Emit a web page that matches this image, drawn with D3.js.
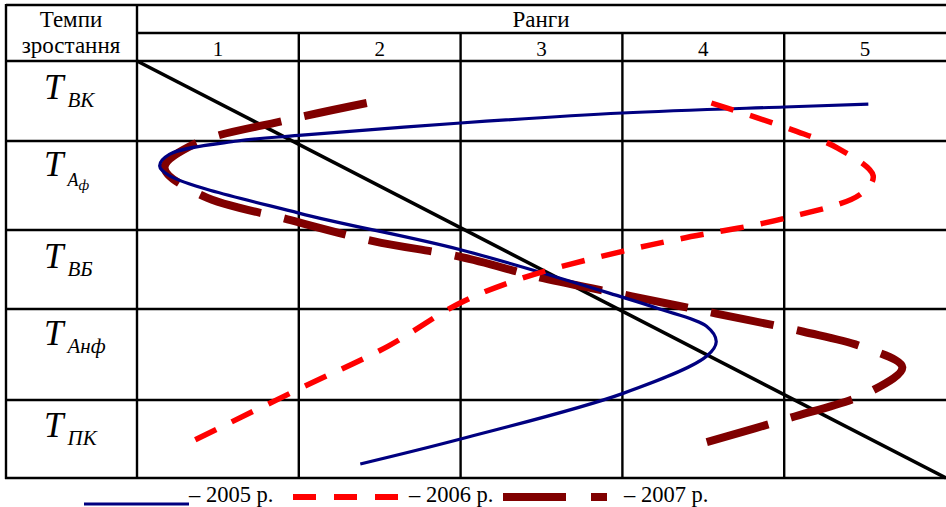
<!DOCTYPE html>
<html><head><meta charset="utf-8">
<script src="https://cdn.jsdelivr.net/npm/d3@7"></script>
<style>body{margin:0;background:#fff}svg{display:block}</style>
</head><body>
<svg id="c" width="946" height="507" font-family="'Liberation Serif', 'Times New Roman', serif"></svg>
<script>
// ranks (columns) and indicators (rows)
const ranks = ["1","2","3","4","5"];
const indicatorMain = ["T","T","T","T","T"];
const indicatorSub = ["ВК","А","ВБ","Анф","ПК"];
const indicatorSubSub = ["","ф","","",""];
const headerLeft = ["Темпи","зростання"];
const headerTop = "Ранги";
const years = ["– 2005 р.","– 2006 р.","– 2007 р."];

// series: traced points [rank position, row position]
const s2005 = [[5.02,0.54],[4.5,0.575],[3.5,0.65],[2.5,0.775],[1.5,0.93],[1.12,1.0],[0.70,1.15],[0.64,1.28],[0.70,1.39],[1.5,1.81],[2.5,2.25],[3.5,2.85],[3.73,3.0],[4.02,3.19],[4.08,3.36],[4.02,3.52],[3.5,3.93],[2.5,4.50],[1.88,4.82]];
const s2006 = [[4.05,0.525],[4.55,0.86],[4.83,1.08],[5.05,1.39],[4.97,1.60],[4.50,1.87],[3.86,2.11],[3.50,2.27],[2.91,2.59],[2.50,2.92],[2.05,3.41],[1.50,3.88],[0.86,4.51]];
const s2007 = [[1.92,0.525],[1.40,0.75],[0.86,1.03],[0.67,1.30],[0.91,1.62],[1.43,1.88],[1.96,2.14],[2.50,2.34],[3.01,2.61],[3.56,2.84],[4.08,3.05],[4.62,3.25],[4.99,3.42],[5.23,3.64],[5.03,3.91],[4.52,4.24],[4.02,4.54]];
const diagonal = [[0.5,0],[5.5,5]];

const svg = d3.select("#c");
svg.append("rect").attr("width",946).attr("height",507).attr("fill","#fff");
const x = d3.scaleLinear().domain([0.5,5.5]).range([137,946]);
const y = d3.scaleLinear().domain([0,1,2,3,4,5]).range([61,141,230,309,400,478]);

const g = svg.append("g");
const ln = (x1,y1,x2,y2)=>g.append("line").attr("x1",x1).attr("y1",y1).attr("x2",x2).attr("y2",y2).attr("stroke","#000").attr("stroke-width",2.4);

// table frame
ln(6,5,946,5);
ln(6,4,6,479);
ln(137,4,137,479);
ln(137,33,946,33);
d3.range(1.5,5.5,1).forEach(r=>ln(x(r),33,x(r),479));
d3.range(0,6).forEach(i=>ln(5,y(i),946,y(i)));

// header texts
const fs = 23;
g.append("text").attr("x",71).attr("y",27).attr("text-anchor","middle").attr("font-size",fs).text(headerLeft[0]);
g.append("text").attr("x",71).attr("y",53).attr("text-anchor","middle").attr("font-size",fs).text(headerLeft[1]);
g.append("text").attr("x",541).attr("y",27).attr("text-anchor","middle").attr("font-size",fs).text(headerTop);
g.selectAll(".rk").data(ranks).join("text").attr("x",(d,i)=>x(i+1)).attr("y",56).attr("text-anchor","middle").attr("font-size",21).text(d=>d);

// row labels
indicatorMain.forEach((m,i)=>{
  const shift = (indicatorSub[i].includes("ф")||indicatorSubSub[i]) ? 8 : 0;
  const by = y(i+0.5) - 2 - shift;
  const t = g.append("text").attr("x",44).attr("y",by).attr("font-style","italic");
  t.append("tspan").attr("font-size",35).text(m);
  if(indicatorSubSub[i]){
    t.append("tspan").attr("font-size",18).attr("dx",4).attr("dy",10).text(indicatorSub[i]);
    t.append("tspan").attr("font-size",15).attr("dy",4).text(indicatorSubSub[i]);
  } else {
    t.append("tspan").attr("font-size",21).attr("dx",4).attr("dy",8).text(indicatorSub[i]);
  }
});

// curves
const line = d3.line().x(d=>x(d[0])).y(d=>y(d[1])).curve(d3.curveCatmullRom.alpha(0.5));
g.append("path").datum(diagonal).attr("d",d3.line().x(d=>x(d[0])).y(d=>y(d[1]))).attr("fill","none").attr("stroke","#000").attr("stroke-width",3.5);

function fitDash(path, dash, gap){
  const L = path.node().getTotalLength();
  const n = Math.max(1, Math.round((L + gap) / (dash + gap)));
  const k = (L + gap) / (n * (dash + gap));
  path.attr("stroke-dasharray", (dash*k)+","+(gap*k));
}
const p07 = g.append("path").datum(s2007).attr("d",line).attr("fill","none").attr("stroke","#800000").attr("stroke-width",8);
fitDash(p07, 62, 23);
g.append("path").datum(s2005).attr("d",line).attr("fill","none").attr("stroke","#000080").attr("stroke-width",3.2);
const p06 = g.append("path").datum(s2006).attr("d",line).attr("fill","none").attr("stroke","#ff0000").attr("stroke-width",5.5);
fitDash(p06, 23, 17);

// legend
const lg = svg.append("g");
const lfs = 22.5;
lg.append("line").attr("x1",84).attr("x2",189).attr("y1",504).attr("y2",504).attr("stroke","#000080").attr("stroke-width",3.2);
lg.append("text").attr("x",189).attr("y",502).attr("font-size",lfs).text(years[0]);
lg.append("line").attr("x1",293).attr("x2",398).attr("y1",497).attr("y2",497).attr("stroke","#ff0000").attr("stroke-width",6).attr("stroke-dasharray","23,18");
lg.append("text").attr("x",409).attr("y",502).attr("font-size",lfs).text(years[1]);
lg.append("line").attr("x1",503).attr("x2",607).attr("y1",497).attr("y2",497).attr("stroke","#800000").attr("stroke-width",8).attr("stroke-dasharray","63,25");
lg.append("text").attr("x",624).attr("y",502).attr("font-size",lfs).text(years[2]);
</script>
</body></html>
